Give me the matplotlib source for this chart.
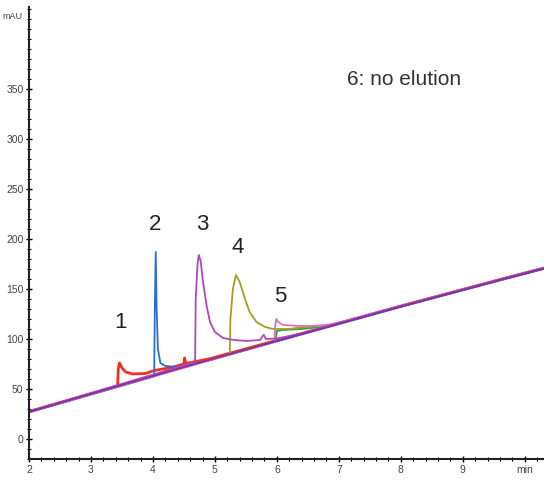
import matplotlib.pyplot as plt
from matplotlib.ticker import MultipleLocator

t_red = [2.0, 3.43, 3.44, 3.46, 3.50, 3.56, 3.67, 3.88, 4.02, 4.3, 4.5, 4.51, 4.53,
         4.9, 6.4, 8.0, 9.6, 10.31]
y_red = [27.5, 53, 70, 76, 71, 67, 65, 65.5, 68.5, 71.5, 75, 81, 75.5,
         80, 105.5, 133, 159.5, 171]

t_blue = [2.0, 4.02, 4.03, 4.045, 4.06, 4.08, 4.12, 4.2, 4.4, 4.9, 6.4, 8.0, 9.6, 10.31]
y_blue = [26.5, 62.5, 130, 187, 130, 90, 76, 73, 72, 78.5, 104.5, 132, 158.5, 170]

t_purple = [2.0, 4.68, 4.69, 4.72, 4.74, 4.77, 4.81, 4.87, 4.92, 5.0, 5.13, 5.3, 5.51,
            5.73, 5.77, 5.79, 5.82, 6.0, 6.2, 6.4, 8.0, 9.6, 10.31]
y_purple = [27.5, 77, 140, 175, 184, 178, 156, 132, 117, 107, 101, 99, 98,
            99, 103, 104, 100, 100.5, 103, 105.5, 133, 159.5, 171]

t_olive = [2.0, 5.24, 5.25, 5.29, 5.34, 5.40, 5.48, 5.56, 5.67, 5.81, 5.94, 6.21, 6.37,
           6.6, 6.85, 7.0, 8.0, 9.6, 10.31]
y_olive = [27, 85, 120, 150, 164, 157, 141, 127, 117, 112, 110, 110, 111.5,
           112.5, 114, 116, 133, 159.5, 171]

t_pink = [2.0, 5.96, 5.97, 5.99, 6.02, 6.1, 6.37, 6.6, 6.85, 7.0, 8.0, 10.31]
y_pink = [27, 97, 111, 120, 117, 114, 113, 113, 114.5, 116.5, 133, 171]

t_green = [2.0, 5.98, 6.0, 6.1, 6.4, 6.7, 7.0, 8.0, 10.31]
y_green = [27, 98, 108, 109, 110, 112, 116, 133, 171]

t_base = [2.0, 3.44, 4.9, 6.4, 8.0, 9.6, 10.31]
y_base = [27, 53, 79, 105, 132.5, 159, 170.5]

etiquetas = ['1', '2', '3', '4', '5']
t_etiq = [3.47, 4.03, 4.79, 5.37, 6.05]
y_etiq = [116, 214, 214, 191, 142]

fig = plt.figure(figsize=(5.44, 4.86), dpi=100)
ax = fig.add_axes([0.0533, 0.0556, 0.9467, 0.93])

ax.plot(t_red, y_red, color='#f03020', lw=2.0)
ax.plot(t_blue, y_blue, color='#2a6fd0', lw=1.3)
ax.plot(t_green, y_green, color='#30a040', lw=1.3)
ax.plot(t_olive, y_olive, color='#a3a020', lw=1.3)
ax.plot(t_pink, y_pink, color='#e070b8', lw=1.3)
ax.plot(t_purple, y_purple, color='#b048c0', lw=1.3)
ax.plot(t_base, y_base, color='#8a2aa8', lw=1.3)

fuente_num = ['Liberation Sans', 'DejaVu Sans']
for txt, tx, ty in zip(etiquetas, t_etiq, y_etiq):
    ax.text(tx, ty, txt, ha='center', va='center', fontsize=16,
            family=fuente_num, color='#222222')

ax.text(8.06, 359, '6: no elution', ha='center', va='center', fontsize=15,
        family=['Liberation Sans', 'DejaVu Sans'], color='#333333')

ax.set_xlim(2, 10.31)
ax.set_ylim(-20, 432)
ax.xaxis.set_minor_locator(MultipleLocator(0.2))
ax.yaxis.set_minor_locator(MultipleLocator(10))
ax.set_xticks(range(2, 11))
ax.set_xticklabels(['2', '3', '4', '5', '6', '7', '8', '9', 'min'])
ax.set_yticks(range(0, 400, 50))
ax.set_yticklabels([str(v) for v in range(0, 400, 50)])
ax.text(-0.012, 422, 'mAU', transform=ax.get_yaxis_transform(), ha='right', va='center',
        fontsize=6.5, family=fuente_num, color='#444444')

ax.tick_params(axis='both', which='major', length=4, width=1, direction='inout',
               labelsize=7.5, labelcolor='#444444', pad=2)
ax.tick_params(axis='both', which='minor', length=2.5, width=0.8, direction='inout')
for lbl in ax.get_xticklabels() + ax.get_yticklabels():
    lbl.set_family(fuente_num)

for lado in ['top', 'right']:
    ax.spines[lado].set_visible(False)
for lado in ['left', 'bottom']:
    ax.spines[lado].set_linewidth(1.5)
    ax.spines[lado].set_color('#222222')

plt.savefig('out.png', dpi=100)
